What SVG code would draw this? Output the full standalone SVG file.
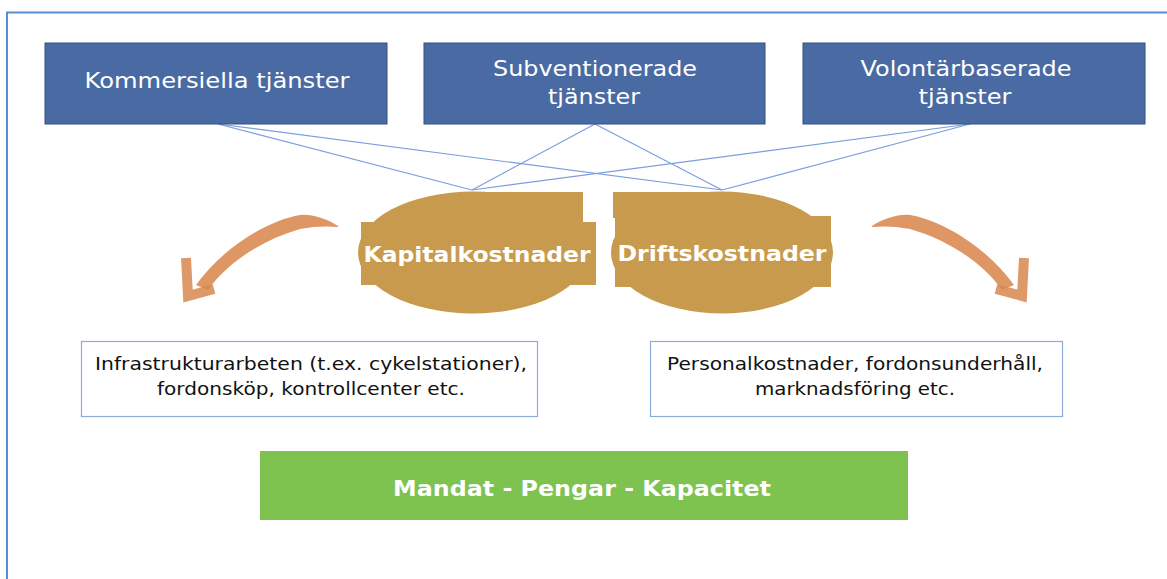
<svg xmlns="http://www.w3.org/2000/svg" width="1167" height="579" viewBox="0 0 1167 579">
<style>
.top{fill:#4a6aa3;stroke:#33507f;stroke-width:1}
.tt{font-family:"DejaVu Sans","Liberation Sans",sans-serif;font-size:22px;fill:#ffffff;text-anchor:middle}
.oval{fill:#c89a4d}
.ot{font-family:"DejaVu Sans","Liberation Sans",sans-serif;font-size:22px;font-weight:bold;fill:#ffffff;text-anchor:middle}
.box{fill:#ffffff;stroke:#8eaadb;stroke-width:1.2}
.bt{font-family:"DejaVu Sans","Liberation Sans",sans-serif;font-size:17px;fill:#111111;text-anchor:middle}
.conn{stroke:#7b9edd;stroke-width:1.2;fill:none}
.arr{fill:#d8874f;opacity:0.88}
.arrh{fill:none;stroke:#d8874f;stroke-width:10;opacity:0.85;stroke-linejoin:miter}
</style>
<rect x="0" y="0" width="1167" height="579" fill="#ffffff"/>
<rect x="7" y="12.5" width="1200" height="620" fill="none" stroke="#5b8bd0" stroke-width="2"/>
<g id="connectors">
<line class="conn" x1="218" y1="124" x2="472" y2="190"/>
<line class="conn" x1="218" y1="124" x2="722" y2="190"/>
<line class="conn" x1="595" y1="124" x2="472" y2="190"/>
<line class="conn" x1="595" y1="124" x2="722" y2="190"/>
<line class="conn" x1="970" y1="124" x2="472" y2="190"/>
<line class="conn" x1="970" y1="124" x2="722" y2="190"/>
</g>
<g id="kommersiella">
<rect class="top" x="45" y="43" width="342" height="81"/>
<text class="tt" x="217" y="88" textLength="265" lengthAdjust="spacingAndGlyphs">Kommersiella tjänster</text>
</g>
<g id="subventionerade">
<rect class="top" x="424" y="43" width="341" height="81"/>
<text class="tt" x="595" y="76" textLength="204" lengthAdjust="spacingAndGlyphs">Subventionerade</text>
<text class="tt" x="594" y="104" textLength="92" lengthAdjust="spacingAndGlyphs">tjänster</text>
</g>
<g id="volontarbaserade">
<rect class="top" x="803" y="43" width="342" height="81"/>
<text class="tt" x="966" y="76" textLength="211" lengthAdjust="spacingAndGlyphs">Volontärbaserade</text>
<text class="tt" x="965" y="104" textLength="93" lengthAdjust="spacingAndGlyphs">tjänster</text>
</g>
<g id="kapitalkostnader">
<ellipse class="oval" cx="473" cy="252.5" rx="115" ry="61"/>
<rect class="oval" x="473" y="192" width="110" height="32"/>
<rect class="oval" x="361" y="222" width="235" height="63"/>
<text class="ot" x="477" y="262" textLength="227" lengthAdjust="spacingAndGlyphs">Kapitalkostnader</text>
</g>
<g id="driftskostnader">
<ellipse class="oval" cx="722" cy="252.5" rx="111" ry="61"/>
<rect class="oval" x="613" y="192" width="110" height="26"/>
<rect class="oval" x="615" y="216" width="216" height="71"/>
<text class="ot" x="722" y="261" textLength="209" lengthAdjust="spacingAndGlyphs">Driftskostnader</text>
</g>
<g id="arrow-left">
<path class="arr" d="M338 226 C325 218 312 214 300 215 C270 220 225 245 196 285 L208 290 C228 262 262 240 300 229 C315 226 328 226 338 227 Z"/>
<polyline class="arrh" points="186,258 188,296 214,289"/>
</g>
<g id="arrow-right">
<path class="arr" d="M872 226 C885 218 898 214 910 215 C940 220 985 245 1014 285 L1002 290 C982 262 948 240 910 229 C895 226 882 226 872 227 Z"/>
<polyline class="arrh" points="1024,258 1022,296 996,289"/>
</g>
<g id="kapital-detaljer">
<rect class="box" x="81.5" y="341.5" width="456" height="75"/>
<text class="bt" x="311" y="370" textLength="432" lengthAdjust="spacingAndGlyphs">Infrastrukturarbeten (t.ex. cykelstationer),</text>
<text class="bt" x="311" y="395" textLength="308" lengthAdjust="spacingAndGlyphs">fordonsköp, kontrollcenter etc.</text>
</g>
<g id="drift-detaljer">
<rect class="box" x="650.5" y="341.5" width="412" height="75"/>
<text class="bt" x="855" y="370" textLength="376" lengthAdjust="spacingAndGlyphs">Personalkostnader, fordonsunderhåll,</text>
<text class="bt" x="855" y="395" textLength="200" lengthAdjust="spacingAndGlyphs">marknadsföring etc.</text>
</g>
<g id="mandat">
<rect x="260" y="451" width="648" height="69" fill="#7ec24f"/>
<text class="ot" x="582" y="496" textLength="378" lengthAdjust="spacingAndGlyphs">Mandat - Pengar - Kapacitet</text>
</g>
</svg>
